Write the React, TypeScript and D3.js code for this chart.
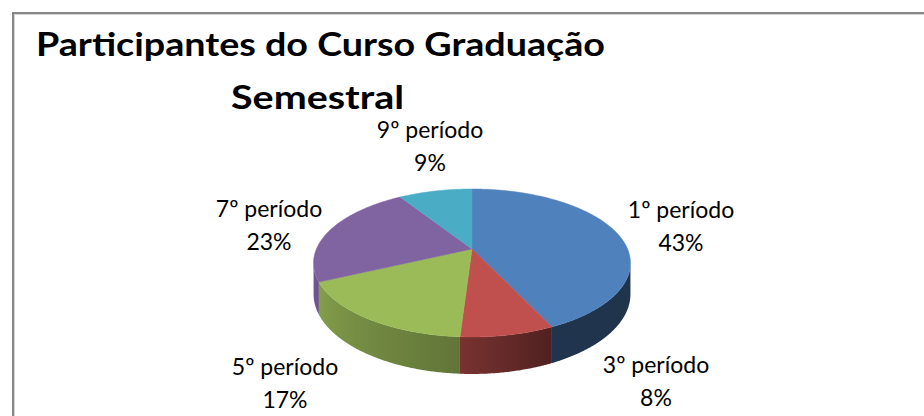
import React from "react";
import * as d3 from "d3";

const categories = ["1º período", "3º período", "5º período", "7º período", "9º período"];
const values = [43, 8, 17, 23, 9];
const percentLabels = ["43%", "8%", "17%", "23%", "9%"];
const colors = ["#4F81BD", "#C0504D", "#9BBB59", "#8064A2", "#4BACC6"];
const titleLines = ["Participantes do Curso Graduação", "Semestral"];

// label placement (center x, baseline of first line)
const labelPos = [
  [681, 218],
  [656, 373],
  [285, 375],
  [269, 217],
  [430, 138],
];

const W = 924;
const H = 416;
const CX = 472;
const CY = 249;
const A = 155.6;
const B = 71.35;
const PERSP = 0.189;
const DEPTH = 30;

function proj(a: number, drop = 0): [number, number] {
  const u = Math.sin(a);
  const v = Math.cos(a);
  const s = 1 / (1 + PERSP * v);
  return [CX + A * u * s, CY - B * v * s + drop * s];
}

const shade = d3
  .scaleLinear<number>()
  .domain([100, 155, 184, 260])
  .range([0.4, 0.41, 0.63, 0.9])
  .clamp(true);

function darken(c: string, f: number) {
  const r = d3.rgb(c);
  return d3.rgb(r.r * f, r.g * f, r.b * f).formatHex();
}

export default function App() {
  const pie = d3.pie<number>().sort(null).value((d) => d)(values);
  const visStart = Math.PI / 2 + Math.asin(PERSP);
  const visEnd = (3 * Math.PI) / 2 - Math.asin(PERSP);
  const step = Math.PI / 360;

  const sides: { d: string; key: string; grad: { x1: number; x2: number; stops: { o: number; c: string }[] } }[] = [];
  pie.forEach((p, i) => {
    const a0 = Math.max(p.startAngle, visStart);
    const a1 = Math.min(p.endAngle, visEnd);
    if (a1 <= a0) return;
    const n = Math.max(2, Math.ceil((a1 - a0) / step));
    const top: [number, number][] = [];
    const bot: [number, number][] = [];
    for (let k = 0; k <= n; k++) {
      const a = a0 + ((a1 - a0) * k) / n;
      top.push(proj(a));
      bot.push(proj(a, DEPTH));
    }
    const pts = top.concat(bot.reverse());
    const x1 = proj(a0)[0];
    const x2 = proj(a1)[0];
    const stops: { o: number; c: string }[] = [];
    const m = 12;
    for (let k = 0; k <= m; k++) {
      const a = a0 + ((a1 - a0) * k) / m;
      const x = proj(a)[0];
      const o = x2 === x1 ? 0 : (x - x1) / (x2 - x1);
      stops.push({ o: Math.max(0, Math.min(1, o)), c: darken(colors[i], shade((a * 180) / Math.PI)) });
    }
    sides.push({
      key: `side-${i}`,
      d: "M" + pts.map((q) => q.join(",")).join("L") + "Z",
      grad: { x1, x2, stops },
    });
  });

  const topPaths = pie.map((p, i) => {
    const n = Math.max(2, Math.ceil((p.endAngle - p.startAngle) / step));
    const pts: [number, number][] = [[CX, CY]];
    for (let k = 0; k <= n; k++) {
      pts.push(proj(p.startAngle + ((p.endAngle - p.startAngle) * k) / n));
    }
    return { d: "M" + pts.map((q) => q.join(",")).join("L") + "Z", fill: colors[i] };
  });

  return (
    <svg
      width={W}
      height={H}
      style={{ position: "absolute", left: 0, top: 0, background: "#fff" }}
      fontFamily="Lato, Carlito, 'Open Sans', sans-serif"
    >
      <defs>
        {sides.map((s) => (
          <linearGradient key={s.key} id={`g-${s.key}`} gradientUnits="userSpaceOnUse" x1={s.grad.x1} y1={0} x2={s.grad.x2} y2={0}>
            {s.grad.stops.map((st, k) => (
              <stop key={k} offset={st.o} stopColor={st.c} />
            ))}
          </linearGradient>
        ))}
      </defs>
      <rect x={0} y={0} width={W} height={H} fill="#fff" />
      <line x1={12} y1={13} x2={W} y2={13} stroke="#878787" strokeWidth={2} />
      <line x1={12} y1={14.5} x2={W} y2={14.5} stroke="#d4d4d4" strokeWidth={1} />
      <line x1={13} y1={12} x2={13} y2={H} stroke="#878787" strokeWidth={2} />
      <line x1={14.5} y1={14} x2={14.5} y2={H} stroke="#d4d4d4" strokeWidth={1} />

      <text x={36} y={56} fontSize={33} fontWeight="bold" fill="#000" textLength={569} lengthAdjust="spacingAndGlyphs">
        {titleLines[0]}
      </text>
      <text x={231} y={109} fontSize={33} fontWeight="bold" fill="#000" textLength={173} lengthAdjust="spacingAndGlyphs">
        {titleLines[1]}
      </text>

      <g>
        {sides.map((s) => (
          <path key={s.key} d={s.d} fill={`url(#g-${s.key})`} />
        ))}
      </g>
      <g>
        {topPaths.map((t, i) => (
          <path key={i} d={t.d} fill={t.fill} stroke={t.fill} strokeWidth={0.5} />
        ))}
      </g>

      <g fontSize={23} fill="#000" textAnchor="middle">
        {categories.map((c, i) => (
          <g key={c}>
            <text x={labelPos[i][0]} y={labelPos[i][1]}>
              {c}
            </text>
            <text x={labelPos[i][0]} y={labelPos[i][1] + 33}>
              {percentLabels[i]}
            </text>
          </g>
        ))}
      </g>
    </svg>
  );
}
